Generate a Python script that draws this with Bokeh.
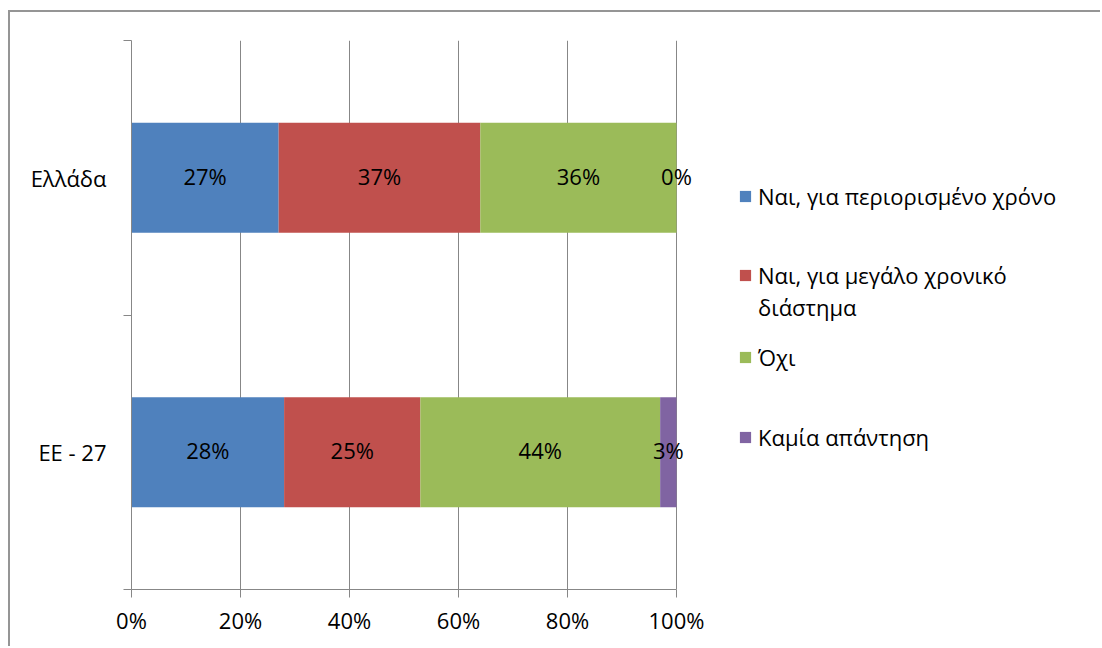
from bokeh.plotting import figure
from bokeh.models import Range1d, FixedTicker, Legend, LegendItem, ColumnDataSource
from bokeh.core.properties import value
from bokeh.embed import file_html
from bokeh.resources import INLINE
import numpy as np

# ---- data ----
categories = ["Ελλάδα", "ΕΕ - 27"]
series_names = ["Ναι, για περιορισμένο χρόνο",
                "Ναι, για μεγάλο χρονικό",
                "Όχι",
                "Καμία απάντηση"]
series_name_cont = {1: "διάστημα"}   # second line of a wrapped legend label
yes_limited = [27, 28]
yes_long = [37, 25]
no_answer_no = [36, 44]
no_reply = [0, 3]
x_ticks = [0, 20, 40, 60, 80, 100]
x_tick_labels = ["0%", "20%", "40%", "60%", "80%", "100%"]

colors = ["#4F81BD", "#C0504D", "#9BBB59", "#8064A2"]
GRAY = "#878787"
FONT = "Open Sans"
FS = "22px"

series = [yes_limited, yes_long, no_answer_no, no_reply]
n = len(categories)
ypos = [n - i - 0.5 for i in range(n)]  # first category on top

# layout (canvas px)
W, H = 1092, 636
FL, FT, FB = 121, 28, 577          # frame left / top / bottom
PLOT_W = 545                       # px width of the 0..100% scale
frame_w = W - FL
x_max = x_ticks[-1] * frame_w / PLOT_W   # extra room on the right for the legend

p = figure(width=W, height=H, output_backend="svg", toolbar_location=None,
           x_range=Range1d(0, x_max), y_range=Range1d(0, n),
           min_border_left=FL, min_border_right=0, min_border_top=FT,
           min_border_bottom=H - FB)
p.styles = {"border-top": "2px solid #959595", "border-left": "2px solid #959595",
            "margin-left": "8px", "margin-top": "10px"}
p.outline_line_color = None
p.background_fill_color = "white"
p.border_fill_color = "white"

starts = np.zeros(n)
renderers = []
for vals, col in zip(series, colors):
    vals = np.array(vals, dtype=float)
    src = ColumnDataSource(dict(y=ypos, left=starts.copy(), right=starts + vals,
                                mid=starts + vals / 2,
                                txt=[f"{int(v)}%" for v in vals]))
    r = p.hbar(y="y", left="left", right="right", height=0.4, source=src,
               fill_color=col, line_color=None)
    renderers.append(r)
    p.text(x="mid", y="y", text="txt", source=src, text_align="center",
           text_baseline="middle", text_font=value(FONT), text_font_size=FS,
           text_color="black", y_offset=-2)
    starts = starts + vals

# axes
xa = p.xaxis[0]
xa.ticker = FixedTicker(ticks=x_ticks, minor_ticks=[])
xa.bounds = (x_ticks[0], x_ticks[-1])
xa.major_label_overrides = {t: l for t, l in zip(x_ticks, x_tick_labels)}
xa.axis_line_color = GRAY
xa.major_tick_line_color = GRAY
xa.major_tick_out = 8
xa.major_tick_in = 0
xa.minor_tick_line_color = None
xa.major_label_text_font = FONT
xa.major_label_text_font_size = FS
xa.major_label_text_color = "black"
xa.major_label_standoff = 7

ya = p.yaxis[0]
ya.ticker = FixedTicker(ticks=ypos, minor_ticks=list(range(n + 1)))
ya.major_label_overrides = {y: c for y, c in zip(ypos, categories)}
ya.axis_line_color = GRAY
ya.major_tick_out = 0
ya.major_tick_in = 0
ya.major_tick_line_color = None
ya.minor_tick_line_color = GRAY
ya.minor_tick_out = 8
ya.minor_tick_in = 0
ya.major_label_text_font = FONT
ya.major_label_text_font_size = FS
ya.major_label_text_color = "black"
ya.major_label_standoff = 17

p.xgrid.grid_line_color = GRAY
p.xgrid.ticker = FixedTicker(ticks=x_ticks)
p.xgrid.bounds = (x_ticks[0], x_ticks[-1])
p.ygrid.grid_line_color = None

# legend entries, each positioned separately (frame px from bottom-left)
leg_x = 607
leg_y = [378, 299, 217, 137]
common = dict(border_line_color=None, background_fill_alpha=0, padding=0, margin=0,
              spacing=0, glyph_height=14, label_text_font=FONT,
              label_text_font_size=FS, label_text_color="black")
for i, (name, r, ly) in enumerate(zip(series_names, renderers, leg_y)):
    p.add_layout(Legend(items=[LegendItem(label=name, renderers=[r])],
                        location=(leg_x, ly), glyph_width=14, label_standoff=6, **common))
    if i in series_name_cont:
        # continuation line of the wrapped label (zero-width swatch)
        p.add_layout(Legend(items=[LegendItem(label=series_name_cont[i], renderers=[r])],
                            location=(leg_x, ly - 32), glyph_width=0, label_standoff=20,
                            **common))

open("out.html", "w").write(file_html(p, INLINE))
